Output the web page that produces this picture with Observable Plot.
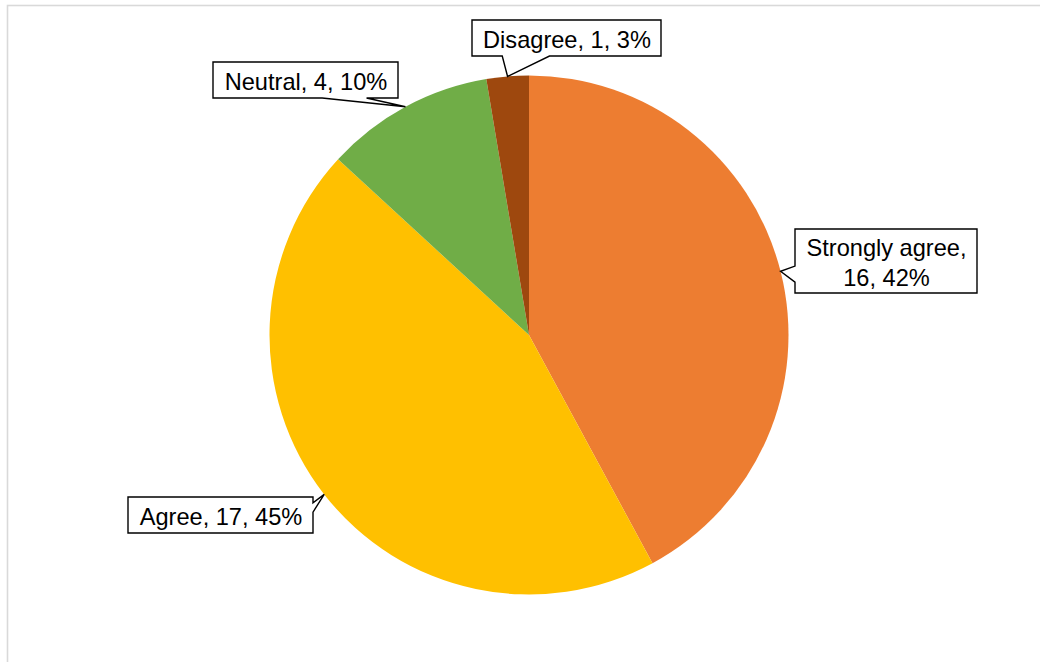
<!DOCTYPE html>
<html><head><meta charset="utf-8">
<script src="https://cdn.jsdelivr.net/npm/d3@7"></script>
<script src="https://cdn.jsdelivr.net/npm/@observablehq/plot@0.6"></script>
<style>html,body{margin:0;padding:0;background:#fff;} svg{display:block}</style>
</head><body><div id="chart"></div>
<script>
// ---- data ----
const categories = ["Strongly agree", "Agree", "Neutral", "Disagree"];
const counts = [16, 17, 4, 1];
const percentLabels = ["42%", "45%", "10%", "3%"];
const colors = ["#ED7D31", "#FFC000", "#70AD47", "#9E480E"];

// ---- layout (pixels) ----
const W = 1040, H = 662;
const pieCX = 529, pieCY = 335, pieR = 259.5;
// callout boxes: centre, size, side of wedge, wedge base fractions, line break
const callouts = [
  {cx: 886, cy: 261, w: 182, h: 64, side: "left",   f0: 0.58, f1: 0.83, wrap: true},
  {cx: 220.5, cy: 515, w: 185, h: 36, side: "right", f0: 0.16, f1: 0.42, wrap: false},
  {cx: 305.5, cy: 80, w: 185, h: 36, side: "bottom", f0: 0.59, f1: 0.83, wrap: false},
  {cx: 566.5, cy: 38, w: 189, h: 36, side: "bottom", f0: 0.16, f1: 0.41, wrap: false}
];

const arcs = d3.pie().sort(null).value(d => d)(counts);
const tips = arcs.map(a => {
  const m = (a.startAngle + a.endAngle) / 2;
  return [pieCX + pieR * Math.sin(m), pieCY - pieR * Math.cos(m)];
});

const labels = categories.map((c, i) => {
  const sep = callouts[i].wrap ? "\n" : " ";
  return {x: callouts[i].cx, y: callouts[i].cy, text: `${c},${sep}${counts[i]}, ${percentLabels[i]}`};
});

function frameMark(index, scales) {
  const g = d3.create("svg:g");
  g.append("rect")
    .attr("x", scales.x(7.5)).attr("y", scales.y(5.5))
    .attr("width", 1100).attr("height", 700)
    .attr("fill", "none").attr("stroke", "#d9d9d9").attr("stroke-width", 1.6);
  return g.node();
}

function pieMark(index, scales) {
  const g = d3.create("svg:g");
  const px = scales.x(pieCX), py = scales.y(pieCY);
  const r = scales.x(pieCX + pieR) - px;
  const arc = d3.arc().innerRadius(0).outerRadius(r);
  g.attr("transform", `translate(${px},${py})`);
  g.selectAll("path").data(arcs).join("path")
    .attr("d", arc)
    .attr("fill", (d, i) => colors[i]);
  return g.node();
}

function calloutMark(index, scales) {
  const g = d3.create("svg:g");
  callouts.forEach((c, i) => {
    const x0 = scales.x(c.cx - c.w / 2), x1 = scales.x(c.cx + c.w / 2);
    const y0 = scales.y(c.cy - c.h / 2), y1 = scales.y(c.cy + c.h / 2);
    const w = x1 - x0, h = y1 - y0;
    const tx = scales.x(tips[i][0]), ty = scales.y(tips[i][1]);
    const p = d3.path();
    p.moveTo(x0, y0);
    p.lineTo(x1, y0);
    if (c.side === "right") {
      p.lineTo(x1, y0 + c.f0 * h); p.lineTo(tx, ty); p.lineTo(x1, y0 + c.f1 * h);
    }
    p.lineTo(x1, y1);
    if (c.side === "bottom") {
      p.lineTo(x0 + c.f1 * w, y1); p.lineTo(tx, ty); p.lineTo(x0 + c.f0 * w, y1);
    }
    p.lineTo(x0, y1);
    if (c.side === "left") {
      p.lineTo(x0, y0 + c.f1 * h); p.lineTo(tx, ty); p.lineTo(x0, y0 + c.f0 * h);
    }
    p.closePath();
    g.append("path").attr("d", p.toString())
      .attr("fill", "#fff").attr("stroke", "#000").attr("stroke-width", 1.4)
      .attr("stroke-linejoin", "miter");
  });
  return g.node();
}

const chart = Plot.plot({
  width: W, height: H,
  margin: 0,
  x: {domain: [0, W], range: [0, W], axis: null},
  y: {domain: [0, H], range: [0, H], axis: null},
  style: {background: "#fff"},
  marks: [
    frameMark,
    pieMark,
    calloutMark,
    Plot.text(labels, {
      x: "x", y: "y", text: "text",
      fontSize: 23.6, fontFamily: "Liberation Sans, Arial, sans-serif",
      fill: "#000", textAnchor: "middle", lineAnchor: "middle", lineHeight: 1.25
    })
  ]
});
document.getElementById("chart").appendChild(chart);
</script>
</body></html>
